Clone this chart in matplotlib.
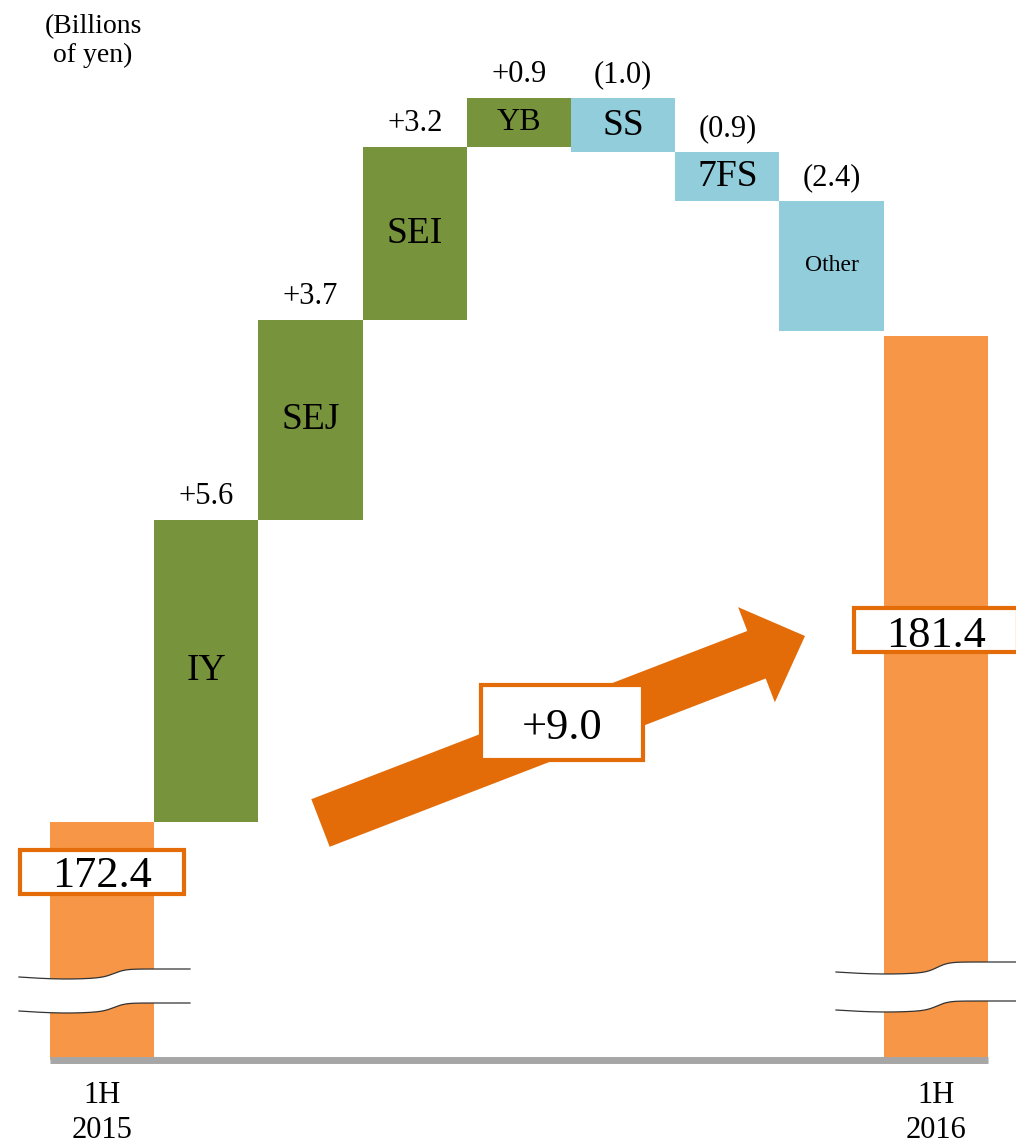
import numpy as np
import matplotlib
matplotlib.use("Agg")
import matplotlib.pyplot as plt
from matplotlib.patches import Rectangle, FancyArrow, Polygon
from matplotlib.transforms import Affine2D, blended_transform_factory

# ---- data ----
categories = ["1H\n2015", "IY", "SEJ", "SEI", "YB", "SS", "7FS", "Other", "1H\n2016"]
start_total = 172.4
changes = [5.6, 3.7, 3.2, 0.9, -1.0, -0.9, -2.4]
change_labels = ["+5.6", "+3.7", "+3.2", "+0.9", "(1.0)", "(0.9)", "(2.4)"]
end_total = 181.4
net_label = "+9.0"
unit_label = "(Billions\nof yen)"

# ---- style ----
W, H = 1016, 1144
ORANGE_BAR = "#F79646"
ORANGE_DARK = "#E36C09"
GREEN = "#77933C"
BLUE = "#92CDDC"
GREY = "#A6A6A6"
FONT = "Liberation Serif"
plt.rcParams["font.family"] = [FONT, "DejaVu Serif"]

fig = plt.figure(figsize=(W / 100, H / 100), dpi=100)
base_px = 1060
ax = fig.add_axes([0, (H - base_px) / H, 1, base_px / H])
ax.set_axis_off()

# scale: px per unit and anchor
ppu = 54.0
anchor_px = 822.0
ylo = start_total - (base_px - anchor_px) / ppu
yhi = start_total + anchor_px / ppu
ax.set_ylim(ylo, yhi)
ax.set_xlim(-0.98, -0.98 + W / 104.2)

px = Affine2D().scale(1 / W, -1 / H).translate(0, 1) + fig.transFigure

x = np.arange(len(categories))

# totals
ax.bar([x[0], x[-1]], [start_total, end_total], width=1.0, color=ORANGE_BAR, zorder=2)

# changes
cum = start_total
for i, (c, lab) in enumerate(zip(changes, change_labels), start=1):
    color = GREEN if c > 0 else BLUE
    ax.bar(x[i], c, bottom=cum, width=1.0, color=color, zorder=2)
    top = max(cum, cum + c)
    mid = cum + c / 2
    ax.annotate(lab, xy=(x[i], top), xytext=(0, 11.5), textcoords="offset points",
                ha="center", va="baseline", fontsize=22, color="black")
    name = categories[i]
    fs = 27
    if name == "YB":
        fs = 23
    elif name == "Other":
        fs = 17
    ax.text(x[i], mid, name, ha="center", va="center", fontsize=fs, color="black", zorder=3)
    cum += c

# baseline
ax.hlines(ylo, -0.5, len(categories) - 0.5, color=GREY, lw=5, clip_on=False, zorder=4)

# x labels for totals
for i in (0, len(categories) - 1):
    ax.annotate(categories[i], xy=(x[i], ylo), xytext=(0, -15), textcoords="offset points",
                ha="center", va="top", fontsize=22, linespacing=1.3,
                annotation_clip=False)

# unit label
fig.text(93, 14, unit_label, transform=px, ha="center", va="top", fontsize=20, linespacing=1.2)

# break marks
def wave(x0, x1, y0, y1, xm, n=160):
    xs = np.linspace(x0, x1, n)
    s = 0.5 + 0.5 * np.tanh((xs - xm) / 11.0)
    sag = 2.0 * np.sin(np.pi * (xs - x0) / (xm - x0)) * (xs < xm)
    ys = y0 + (y1 - y0) * s + sag * (1 - s)
    return xs, ys

for (x0, x1, xm, a0, a1, b0, b1) in [(19, 190, 115, 977, 969, 1011, 1003),
                                     (836, 1016, 938, 972, 962, 1010, 1001)]:
    xa, ya = wave(x0, x1, a0, a1, xm)
    xb, yb = wave(x0, x1, b0, b1, xm)
    poly = np.vstack([np.column_stack([xa, ya]), np.column_stack([xb[::-1], yb[::-1]])])
    fig.patches.append(Polygon(poly, closed=True, transform=px, fc="white", ec="none", zorder=5))
    fig.lines.append(plt.Line2D(xa, ya, transform=px, color="#333333", lw=0.9, zorder=6))
    fig.lines.append(plt.Line2D(xb, yb, transform=px, color="#333333", lw=0.9, zorder=6))

# total value boxes (x centered on bars, y in pixels)
bt = blended_transform_factory(ax.transData, px)
half_w = 82 / 104.2
for i, val, ytop, ybase in [(0, start_total, 850, 887), (len(categories) - 1, end_total, 608, 647)]:
    ax.add_patch(Rectangle((x[i] - half_w, ytop), 2 * half_w, 44, transform=bt, fc="white",
                           ec=ORANGE_DARK, lw=3, zorder=7, clip_on=False))
    ax.text(x[i], ybase, f"{val:.1f}", transform=bt, ha="center", va="baseline",
            fontsize=32, zorder=8, clip_on=False)

# net change arrow
arrow = FancyArrow(320.5, 823, 805 - 320.5, 636 - 823, width=51, head_width=102, head_length=52,
                   length_includes_head=True, transform=px, fc=ORANGE_DARK, ec="none", zorder=7)
fig.patches.append(arrow)
fig.patches.append(Rectangle((481, 685), 162, 75, transform=px, fc="white", ec=ORANGE_DARK, lw=3, zorder=8))
fig.text(562, 739, net_label, transform=px, ha="center", va="baseline", fontsize=32, zorder=9)

fig.savefig("out.png", dpi=100)
